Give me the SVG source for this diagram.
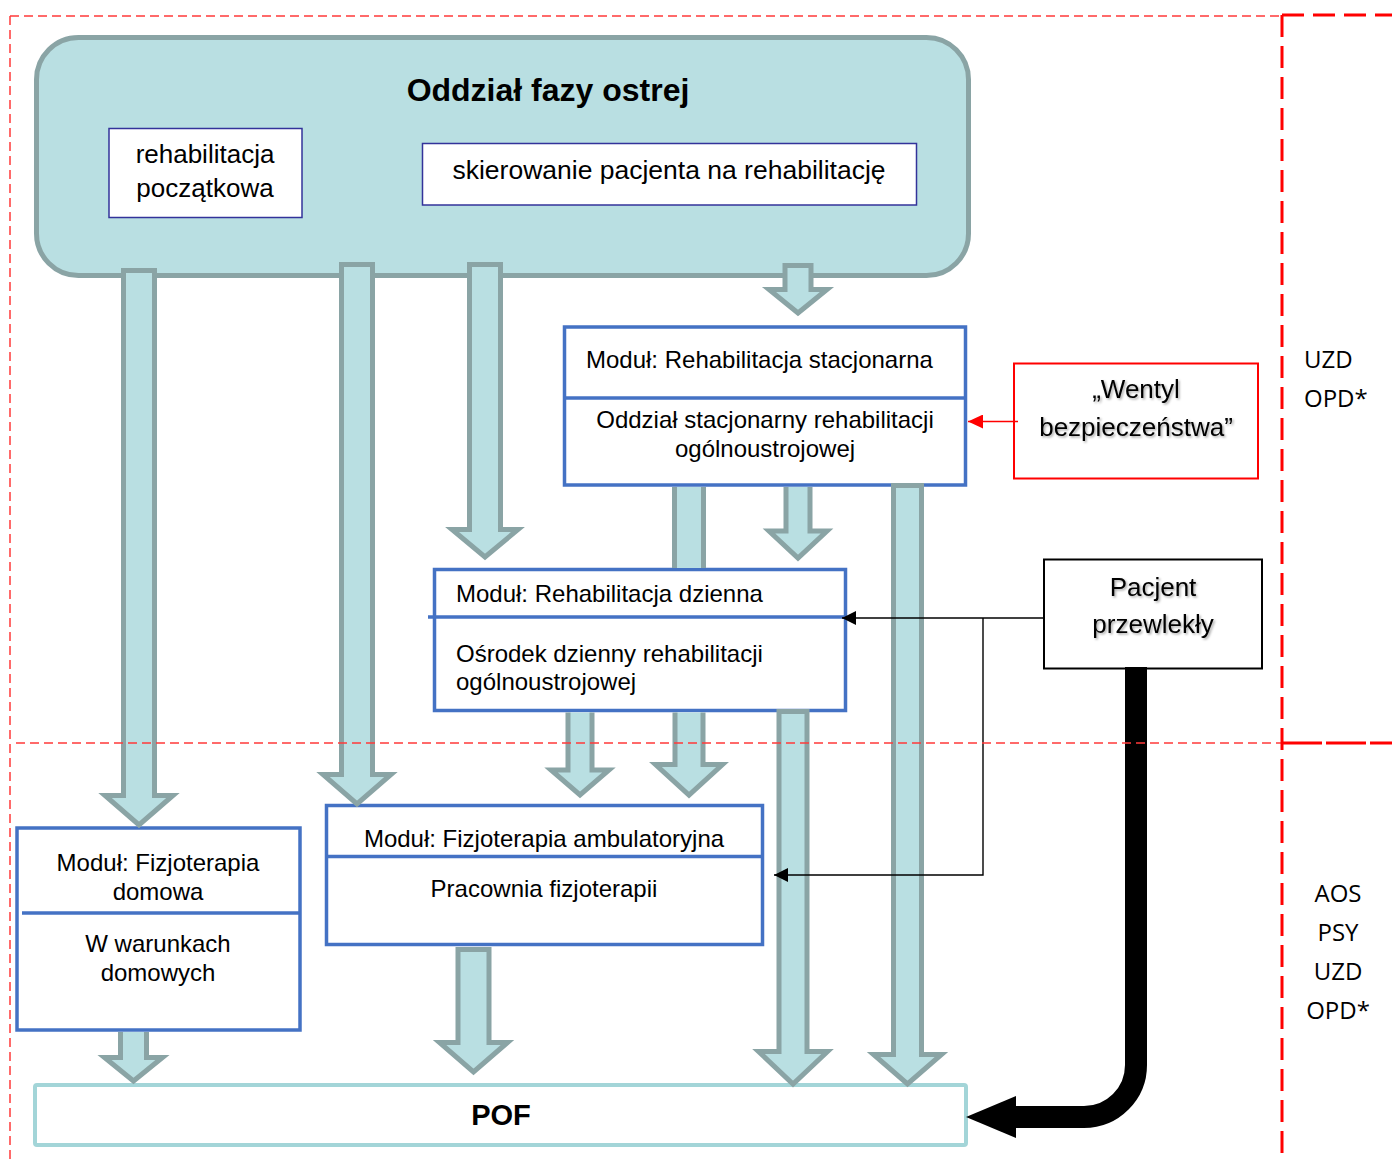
<svg xmlns="http://www.w3.org/2000/svg" width="1392" height="1160" viewBox="0 0 1392 1160">
  <defs>
    <style>
      .t { font-family: "Liberation Sans", Arial, sans-serif; fill: #000; }
      .c { text-anchor: middle; }
      .side { font-family: "Open Sans", "Noto Sans", sans-serif; font-size: 24px; fill: #000; }
      .zone-thin { fill: none; stroke: #ff3a3a; stroke-width: 1.5; stroke-dasharray: 9 5; }
      .zone-thick { fill: none; stroke: #ff0000; stroke-width: 3; stroke-dasharray: 22 9; }
      .inner { fill: #fff; stroke: #33339a; stroke-width: 1.5; }
      .module { fill: #fff; stroke: #4472c4; stroke-width: 3.5; }
      .divider { stroke: #4472c4; stroke-width: 3.5; }
      .flow { fill: #b9dfe2; stroke: #8aa4a5; stroke-width: 5; stroke-linejoin: miter; stroke-miterlimit: 10; }
      .flow-fill { fill: #b9dfe2; stroke: none; }
      .flow-edge { fill: none; stroke: #8aa4a5; stroke-width: 5; }
      .link { fill: none; stroke: #000; stroke-width: 1.4; }
    </style>
    <marker id="head-black" viewBox="0 0 14 14" refX="14" refY="7" markerWidth="14" markerHeight="14" markerUnits="userSpaceOnUse" orient="auto">
      <path d="M0,0 L14,7 L0,14 Z" fill="#000"/>
    </marker>
    <marker id="head-red" viewBox="0 0 15 14" refX="15" refY="7" markerWidth="15" markerHeight="14" markerUnits="userSpaceOnUse" orient="auto">
      <path d="M0,0 L15,7 L0,14 Z" fill="#ff0000"/>
    </marker>
    <filter id="soft-shadow" x="-10%" y="-20%" width="120%" height="150%">
      <feDropShadow dx="1.5" dy="1.5" stdDeviation="0.9" flood-color="#000" flood-opacity="0.35"/>
    </filter>
  </defs>

  <rect width="1392" height="1160" fill="#fff"/>

  <!-- acute ward -->
  <g id="oddzial-fazy-ostrej">
    <rect x="36.5" y="37.5" width="932" height="238" rx="42" ry="42" fill="#b9dfe2" stroke="#8aa4a5" stroke-width="5"/>
    <text class="t c" x="548" y="101" font-size="32" font-weight="bold">Oddział fazy ostrej</text>
  </g>
  <g id="rehabilitacja-poczatkowa">
    <rect class="inner" x="109" y="128.5" width="193" height="89"/>
    <text class="t c" x="205" y="163" font-size="26">rehabilitacja</text>
    <text class="t c" x="205" y="197" font-size="26">początkowa</text>
  </g>
  <g id="skierowanie">
    <rect class="inner" x="422.5" y="143.5" width="494" height="61.5"/>
    <text class="t c" x="669" y="179" font-size="26.5">skierowanie pacjenta na rehabilitację</text>
  </g>

  <!-- modules -->
  <g id="modul-stacjonarna">
    <rect class="module" x="564.5" y="327" width="401" height="158"/>
    <line class="divider" x1="564.5" y1="398" x2="965.5" y2="398"/>
    <text class="t" x="586" y="368" font-size="24">Moduł: Rehabilitacja stacjonarna</text>
    <text class="t c" x="765" y="428" font-size="24">Oddział stacjonarny rehabilitacji</text>
    <text class="t c" x="765" y="457" font-size="24">ogólnoustrojowej</text>
  </g>
  <g id="modul-dzienna">
    <rect class="module" x="434.5" y="569.5" width="411" height="141"/>
    <line class="divider" x1="428" y1="617" x2="845" y2="617"/>
    <text class="t" x="456" y="602" font-size="24">Moduł: Rehabilitacja dzienna</text>
    <text class="t" x="456" y="662" font-size="24">Ośrodek dzienny rehabilitacji</text>
    <text class="t" x="456" y="690" font-size="24">ogólnoustrojowej</text>
  </g>
  <g id="modul-ambulatoryjna">
    <rect class="module" x="326.5" y="805.5" width="436" height="139"/>
    <line class="divider" x1="326.5" y1="856.5" x2="762.5" y2="856.5"/>
    <text class="t c" x="544" y="847" font-size="24">Moduł: Fizjoterapia ambulatoryjna</text>
    <text class="t c" x="544" y="897" font-size="24">Pracownia fizjoterapii</text>
  </g>
  <g id="modul-domowa">
    <rect class="module" x="17" y="828" width="283" height="202"/>
    <line class="divider" x1="22" y1="913" x2="300" y2="913"/>
    <text class="t c" x="158" y="871" font-size="24">Moduł: Fizjoterapia</text>
    <text class="t c" x="158" y="900" font-size="24">domowa</text>
    <text class="t c" x="158" y="952" font-size="24">W warunkach</text>
    <text class="t c" x="158" y="981" font-size="24">domowych</text>
  </g>

  <!-- side nodes -->
  <g id="wentyl-bezpieczenstwa">
    <rect x="1014" y="363.5" width="244" height="115" fill="#fff" stroke="#ff0000" stroke-width="2"/>
    <g filter="url(#soft-shadow)">
      <text class="t c" x="1136" y="398" font-size="26">„Wentyl</text>
      <text class="t c" x="1136" y="436" font-size="26">bezpieczeństwa”</text>
    </g>
  </g>
  <g id="pacjent-przewlekly">
    <rect x="1044" y="559.5" width="218" height="109" fill="#fff" stroke="#000" stroke-width="2"/>
    <g filter="url(#soft-shadow)">
      <text class="t c" x="1153" y="596" font-size="26">Pacjent</text>
      <text class="t c" x="1153" y="633" font-size="26">przewlekły</text>
    </g>
  </g>

  <!-- primary care -->
  <g id="pof">
    <rect x="35" y="1085" width="931" height="60" rx="2" fill="#fff" stroke="#a3d5d8" stroke-width="4"/>
    <text class="t c" x="501" y="1125" font-size="29" font-weight="bold">POF</text>
  </g>

  <!-- connectors -->
  <g id="connectors">
    <!-- from the acute ward -->
    <path class="flow" d="M123.5,270.5 H154.5 V795.5 H173 L139,825 L105,795.5 H123.5 Z"/>
    <path class="flow" d="M341.5,264.5 H372.5 V774.5 H391 L357,804 L323,774.5 H341.5 Z"/>
    <path class="flow" d="M469.5,264.5 H500.5 V529.5 H518 L485,557 L452,529.5 H469.5 Z"/>
    <path class="flow" d="M785,265.5 H811 V289.5 H827 L798,313 L769,289.5 H785 Z"/>

    <!-- from the inpatient module -->
    <rect class="flow-fill" x="674.5" y="487" width="29" height="81"/>
    <path class="flow-edge" d="M674.5,487 V568 M703.5,487 V568"/>
    <path class="flow" d="M786,487 V531 H769 L798,558 L827,531 H810 V487"/>
    <path class="flow" d="M893.5,485.5 H921.5 V1054.5 H941.5 L907.5,1084 L873.5,1054.5 H893.5 Z"/>

    <!-- from the day module -->
    <path class="flow" d="M568,712.5 V770 H551 L580,795 L609,770 H592 V712.5"/>
    <path class="flow" d="M675,712.5 V764.5 H655.5 L689,795 L722.5,764.5 H703 V712.5"/>
    <path class="flow" d="M779,711.5 H807 V1051.5 H827.5 L793,1084 L758.5,1051.5 H779 Z"/>

    <!-- to primary care -->
    <path class="flow" d="M120.5,1032 V1057.5 H104.5 L133.5,1081 L162.5,1057.5 H146.5 V1032"/>
    <path class="flow" d="M458,949.5 H489 V1042.5 H507.5 L473.5,1072 L439.5,1042.5 H458 Z"/>

    <!-- safety valve -->
    <line x1="1018" y1="421.5" x2="968" y2="421.5" stroke="#ff0000" stroke-width="1.4" marker-end="url(#head-red)"/>

    <!-- chronic patient referrals -->
    <path class="link" d="M1044,618 H842" marker-end="url(#head-black)"/>
    <path class="link" d="M983,618 V875 H774" marker-end="url(#head-black)"/>
    <path d="M1136,667 V1065 A52,52 0 0 1 1084,1117 H1010" fill="none" stroke="#000" stroke-width="22"/>
    <path d="M1016,1096 L966,1117 L1016,1138 Z" fill="#000"/>
  </g>

  <!-- care-level zones, drawn over everything -->
  <g id="zones">
    <path class="zone-thin" d="M10,16 H1282 M10,16 V1160 M16,743 H1282"/>
    <path class="zone-thick" d="M1282,15 V1160"/>
    <path class="zone-thick" d="M1282,15 H1392"/>
    <path class="zone-thick" style="stroke-dasharray: 40 4" d="M1282,743 H1392"/>
    <text class="side" x="1304" y="368">UZD</text>
    <text class="side" x="1304" y="407">OPD*</text>
    <text class="side c" x="1338" y="902">AOS</text>
    <text class="side c" x="1338" y="941">PSY</text>
    <text class="side c" x="1338" y="980">UZD</text>
    <text class="side c" x="1338" y="1019">OPD*</text>
  </g>
</svg>
